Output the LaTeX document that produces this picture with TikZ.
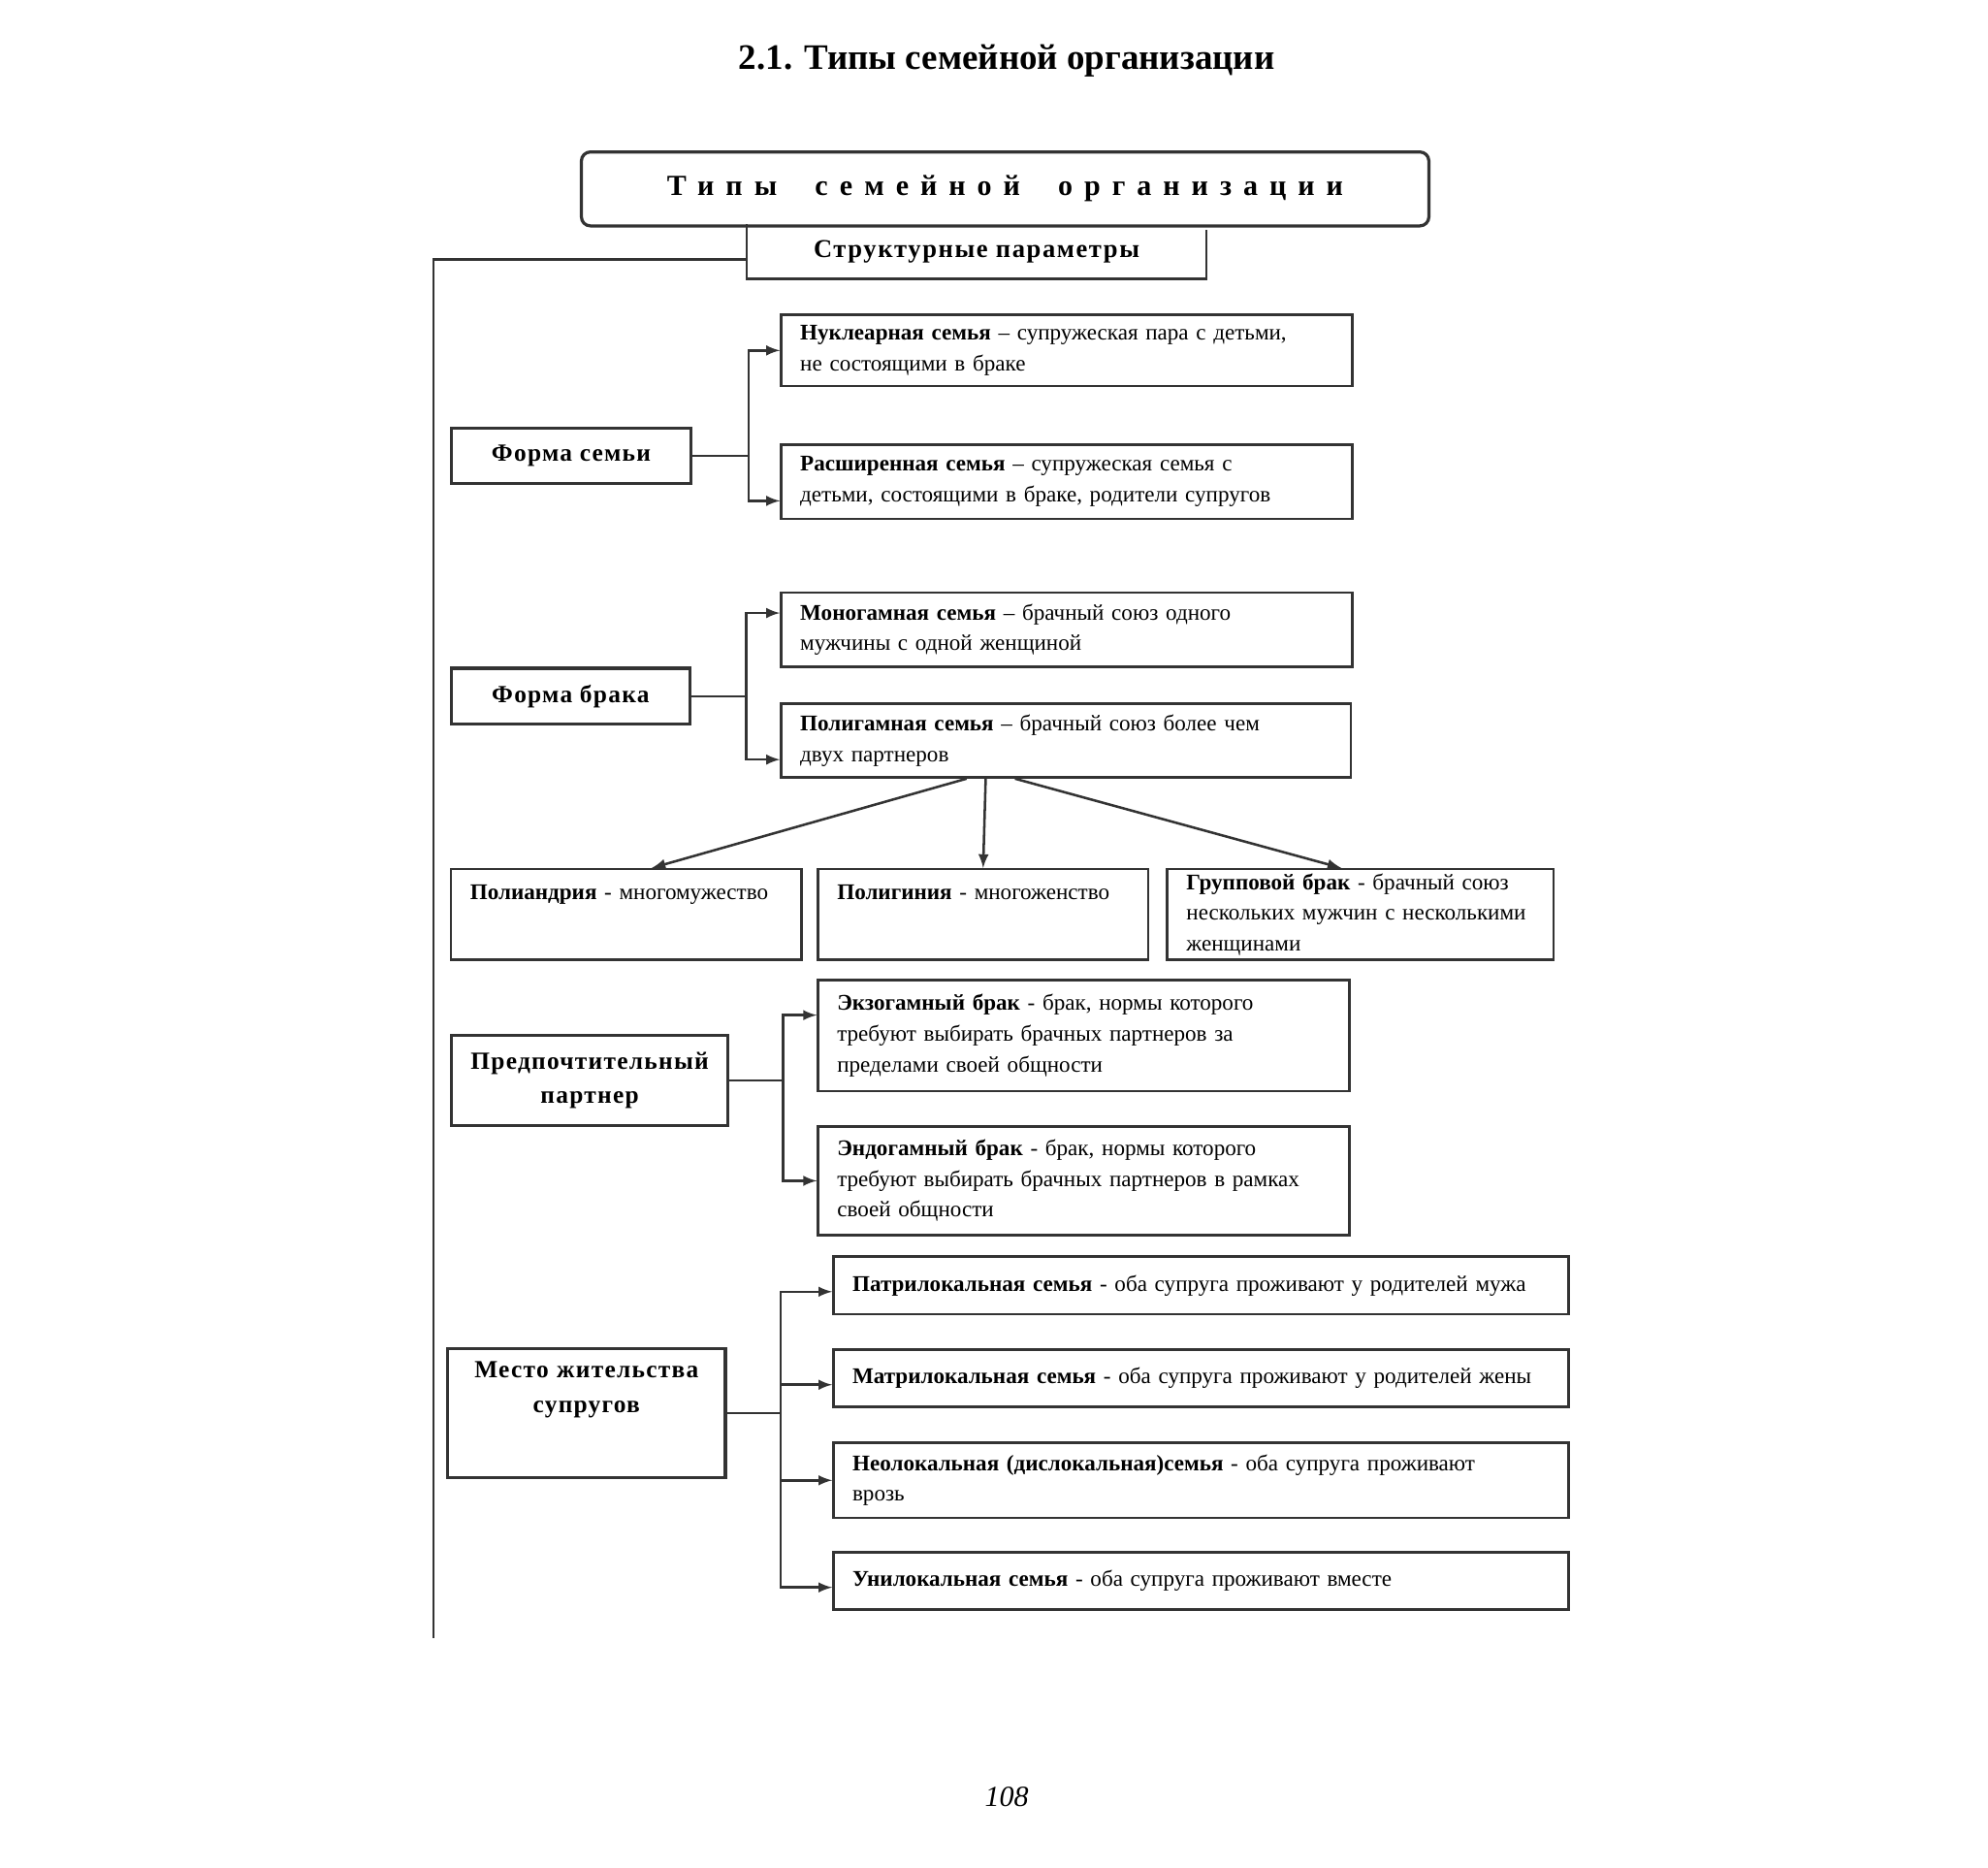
\documentclass[tikz,border=0pt]{standalone}
\usepackage{fontspec}
\setmainfont{Liberation Serif}
\newfontfamily\spacedfont[LetterSpace=40]{Liberation Serif}
\usetikzlibrary{shapes,arrows}

\begin{document}
\begin{tikzpicture}[x=0.2mm,y=-0.2mm]
\tikzstyle{box} = [draw=black!80,line width=1.1pt,anchor=north west,inner xsep=3mm,inner ysep=0pt,align=left,font=\fontsize{10}{13.7}\selectfont]
\tikzstyle{cat} = [draw=black!80,line width=1.4pt,anchor=north west,inner sep=0pt,align=center,font=\fontsize{11}{15.5}\selectfont\bfseries\addfontfeature{LetterSpace=5}]
\tikzstyle{line} = [draw=black!80,line width=1.1pt]
\tikzstyle{arr} = [line,-latex]
\useasboundingbox (0,0) rectangle (1560,1465);
% heading
\node (title) at (790,48) {\fontsize{16}{19}\selectfont\bfseries 2.1. Типы семейной организации};
\node[draw=black!80,line width=1.4pt,rounded corners=4pt,anchor=north west,minimum width=133mm,minimum height=11.6mm] (top) at (455,118)
   {\fontsize{13}{16}\spacedfont\bfseries Типы\ \ семейной\ \ организации};
\node[anchor=north west,minimum width=72mm,minimum height=8.4mm,inner sep=0pt,font=\fontsize{11.5}{14}\selectfont\bfseries\addfontfeature{LetterSpace=6}] (sp) at (586,176) {Структурные параметры};
\draw[line] (sp.north west) -- (sp.south west) -- (sp.south east) -- ([yshift=-0.8mm]sp.north east);
\coordinate (trunk) at (340,1285);
\draw[line] ([yshift=3mm]sp.south west) -| (trunk);
% form of family
\node[cat,minimum width=37.6mm,minimum height=8.6mm] (fs) at (353,335) {Форма семьи};
\node[box,text width=83.6mm,minimum height=11.2mm] (nuc) at (612,246)
   {\textbf{Нуклеарная семья} – супружеская пара с детьми,\\не состоящими в браке};
\node[box,text width=83.6mm,minimum height=11.6mm] (ext) at (612,348)
   {\textbf{Расширенная семья} – супружеская семья с\\детьми, состоящими в браке, родители супругов};
\draw[line] (fs.east) -- ++(44,0) coordinate (fsj);
\draw[arr] (fsj) |- (nuc.west);
\draw[arr] (fsj) |- ([yshift=-3mm]ext.west);
% form of marriage
\node[cat,minimum width=37.4mm,minimum height=8.8mm] (fb) at (353,523) {Форма брака};
\node[box,text width=83.6mm,minimum height=11.6mm] (mono) at (612,464)
   {\textbf{Моногамная семья} – брачный союз одного\\мужчины с одной женщиной};
\node[box,text width=83.4mm,minimum height=11.6mm] (poly) at (612,551)
   {\textbf{Полигамная семья} – брачный союз более чем\\двух партнеров};
\draw[line] (fb.east) -- ++(43,0) coordinate (fbj);
\draw[arr] (fbj) |- ([yshift=2.6mm]mono.west);
\draw[arr] (fbj) |- ([yshift=-3mm]poly.west);
% kinds of polygamy
\node[box,text width=49mm,text height=4.8mm,text depth=9.4mm] (pa) at (353,681)
   {\textbf{Полиандрия} - многомужество};
\node[box,text width=45.8mm,text height=4.8mm,text depth=9.4mm] (pg) at (641,681)
   {\textbf{Полигиния} - многоженство};
\node[box,text width=54.6mm,minimum height=14.2mm] (gb) at (915,681)
   {\textbf{Групповой брак} - брачный союз\\нескольких мужчин с несколькими\\женщинами};
\draw[arr] ([xshift=-15.6mm]poly.south) -- ([xshift=4mm]pa.north);
\draw[arr] ([xshift=-12.6mm]poly.south) -- (pg.north);
\draw[arr] ([xshift=-8mm]poly.south) -- ([xshift=-3mm]gb.north);
% preferred partner
\node[cat,minimum width=43.4mm,minimum height=14.2mm] (pp) at (353,811) {Предпочтительный\\партнер};
\node[box,text width=77.4mm,minimum height=17.4mm] (exo) at (641,768)
   {\textbf{Экзогамный брак} - брак, нормы которого\\требуют выбирать брачных партнеров за\\пределами своей общности};
\node[box,text width=77.4mm,minimum height=17mm] (endo) at (641,883)
   {\textbf{Эндогамный брак} - брак, нормы которого\\требуют выбирать брачных партнеров в рамках\\своей общности};
\draw[line] (pp.east) -- ++(42,0) coordinate (ppj);
\draw[arr] (ppj) |- ([yshift=3.2mm]exo.west);
\draw[arr] (ppj) |- (endo.west);
% place of residence
\node[cat,text width=43.6mm,text height=4.6mm,text depth=15.6mm] (mj) at (350,1057) {Место жительства\\супругов};
\node[box,text width=109.4mm,minimum height=9mm] (patri) at (653,985)
   {\textbf{Патрилокальная семья} - оба супруга проживают у родителей мужа};
\node[box,text width=109.4mm,minimum height=9mm] (matri) at (653,1058)
   {\textbf{Матрилокальная семья} - оба супруга проживают у родителей жены};
\node[box,text width=109.4mm,minimum height=11.8mm] (neo) at (653,1131)
   {\textbf{Неолокальная (дислокальная)семья} - оба супруга проживают\\врозь};
\node[box,text width=109.4mm,minimum height=9mm] (uni) at (653,1217)
   {\textbf{Унилокальная семья} - оба супруга проживают вместе};
\draw[line] (mj.east) -- ++(42,0) coordinate (mjj);
\draw[arr] (mjj) |- ([yshift=-1mm]patri.west);
\draw[arr] (mjj) |- ([yshift=-1mm]matri.west);
\draw[arr] (mjj) |- (neo.west);
\draw[arr] (mjj) |- ([yshift=-1mm]uni.west);
% page number
\node (page) at (790,1410) {\fontsize{13}{15}\selectfont\itshape 108};
\end{tikzpicture}
\end{document}
